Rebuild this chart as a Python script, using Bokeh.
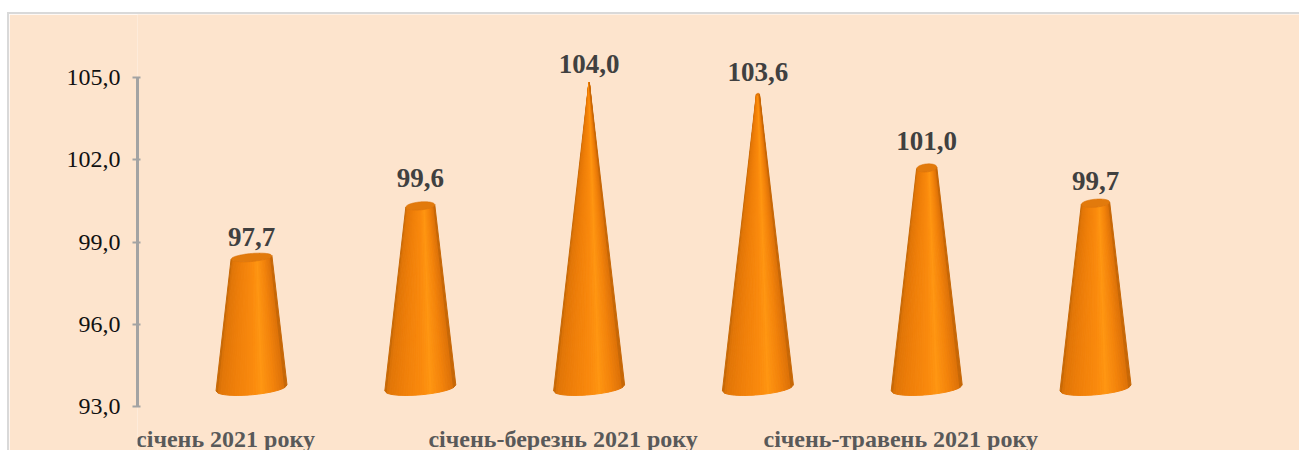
from bokeh.plotting import figure
from bokeh.embed import file_html
from bokeh.resources import INLINE
from bokeh.core.properties import value
from bokeh.models import (Range1d, LinearAxis, FixedTicker, ColumnDataSource, LabelSet)

values = [97.7, 99.6, 104.0, 103.6, 101.0, 99.7]
value_labels = ["97,7", "99,6", "104,0", "103,6", "101,0", "99,7"]
label_dy = [-16, -24, -19, -21, -23, -18]
axis_ticks = [93, 96, 99, 102, 105]
axis_labels = ["93,0", "96,0", "99,0", "102,0", "105,0"]
categories = ["січень 2021 року", "січень-березнь 2021 року", "січень-травень 2021 року"]
category_pos = [0, 2, 4]

PEACH = "#fde4cd"
W, H = 1290, 436
LEFT = 128  # canvas px of the plot frame
TOP = 0
SP = 168.8     # px per category
X0 = 242       # canvas px of category 0
Y105, Y93 = 63, 392   # canvas px of the axis ends
PX_A = (Y93 - Y105) / 12
CONE_PX = 27.14
Y104 = 68      # canvas px of value 104 on the cone scale
BASE_Y = 373.5 # canvas px of base-ellipse centre
APEX_Y = 66
A0, B0 = 35.5, 6.8
TILT = 0.085

p = figure(width=W, height=H, output_backend="svg", toolbar_location=None,
           x_range=Range1d((LEFT - X0) / SP, (W - X0) / SP),
           y_range=Range1d(93 - (H - Y93) / PX_A, 105 + (Y105 - TOP) / PX_A),
           min_border_left=LEFT, min_border_top=TOP, min_border_right=0, min_border_bottom=0,
           background_fill_color=PEACH, border_fill_color=PEACH, outline_line_color=None)
p.grid.visible = False
p.xaxis.visible = False
p.yaxis.visible = False

p.extra_y_ranges = {"cones": Range1d(104 - (H - Y104) / CONE_PX, 104 + (Y104 - TOP) / CONE_PX)}

ax = LinearAxis(ticker=FixedTicker(ticks=axis_ticks), bounds=(93, 105),
                major_label_overrides={t: l for t, l in zip(axis_ticks, axis_labels)})
ax.axis_line_color = "#a3a3a3"
ax.axis_line_width = 3
ax.major_tick_line_color = "#a3a3a3"
ax.major_tick_line_width = 2
ax.major_tick_in = 3
ax.major_tick_out = 5
ax.minor_tick_line_color = None
ax.major_label_text_font = "Liberation Serif"
ax.major_label_text_font_size = "24px"
ax.major_label_text_color = "#111111"
ax.major_label_standoff = 12
p.add_layout(ax, "left")


def val_to_px(v):
    return Y104 + (104 - v) * CONE_PX


def px_to_val(y):
    return 104 - (y - Y104) / CONE_PX


STOPS = [(-1.0, (190, 100, 6)), (-0.88, (226, 118, 8)), (-0.45, (240, 128, 10)),
         (0.05, (250, 138, 14)), (0.3, (255, 150, 18)), (0.62, (244, 132, 12)),
         (0.92, (222, 114, 8)), (1.0, (184, 96, 6))]


def shade(u):
    for (u0, c0), (u1, c1) in zip(STOPS, STOPS[1:]):
        if u <= u1:
            t = (u - u0) / (u1 - u0)
            return "#%02x%02x%02x" % tuple(int(a + (b - a) * t) for a, b in zip(c0, c1))
    return "#a05404"


def fr(u):
    return max(0.0, 1 - u * u) ** 0.5


N = 30
xs, ys, cs = [], [], []
txs, tys = [], []
for i, v in enumerate(values):
    top_y = val_to_px(v)
    bt = 4.0 * min(1.0, max(0.0, (top_y - APEX_Y) / 60))
    cy_t = top_y + bt
    at = A0 * max(0.0, (cy_t - APEX_Y)) / (BASE_Y - APEX_Y)
    for j in range(N):
        u0, u1 = -1 + 2 * j / N, -1 + 2 * (j + 1) / N
        um = (u0 + u1) / 2
        poly = [(at * u0, cy_t - TILT * at * u0 + bt * fr(u0)),
                (at * u1, cy_t - TILT * at * u1 + bt * fr(u1)),
                (A0 * u1, BASE_Y - TILT * A0 * u1 + B0 * fr(u1)),
                (A0 * u0, BASE_Y - TILT * A0 * u0 + B0 * fr(u0))]
        xs.append([i + q[0] / SP for q in poly])
        ys.append([px_to_val(q[1]) for q in poly])
        cs.append(shade(um))
    if bt > 0.5:
        M = 36
        ring = [-1 + 2 * m / M for m in range(M + 1)]
        ex = [at * u for u in ring] + [at * u for u in ring[::-1]]
        ey = [cy_t - TILT * at * u + bt * fr(u) for u in ring] + \
             [cy_t - TILT * at * u - bt * fr(u) for u in ring[::-1]]
        txs.append([i + e / SP for e in ex])
        tys.append([px_to_val(e) for e in ey])

p.patches(xs, ys, fill_color=cs, line_color=cs, line_width=1, y_range_name="cones")
p.patches(txs, tys, fill_color="#e27a0c", line_color="#da740b", line_width=0.6, y_range_name="cones")

src = ColumnDataSource(dict(x=list(range(len(values))), y=values, t=value_labels, dy=label_dy))
p.text("x", "y", text="t", source=src, y_offset="dy", y_range_name="cones",
       text_align="center", text_baseline="alphabetic",
       text_font=value("Liberation Serif"), text_font_style="bold",
       text_font_size="27px", text_color="#404040")

cat_src = ColumnDataSource(dict(x=category_pos, y=[93] * 3, t=categories))
p.add_layout(LabelSet(x="x", y="y", text="t", source=cat_src, x_offset=-26, y_offset=-40,
                      text_align="center", text_baseline="alphabetic",
                      text_font="Liberation Serif", text_font_style="bold",
                      text_font_size="24px", text_color="#595959"))

html = file_html(p, INLINE)
# white strip above the chart and the thin grey frame on its top and left edges
html = html.replace("</head>", "<style>html,body{overflow:hidden;height:100%}"
                    "body{box-sizing:border-box;margin:12px 0 0 7px !important;"
                    "border-top:2px solid #d9d9d9;border-left:2px solid #d9d9d9}</style></head>", 1)
open("out.html", "w").write(html)
